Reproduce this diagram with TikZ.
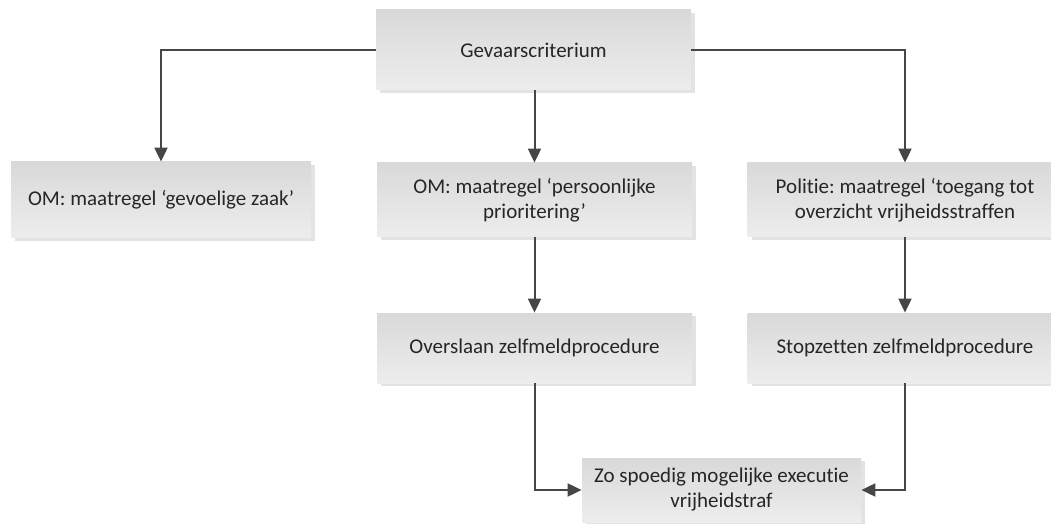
\documentclass[tikz,border=0pt]{standalone}
\usepackage{fontspec}
\setmainfont[Ligatures=NoCommon]{Carlito}
\usetikzlibrary{arrows.meta,shadows}
\frenchspacing

\definecolor{boxtop}{HTML}{D9D9D9}
\definecolor{boxbot}{HTML}{EDEDED}
\definecolor{shadowgray}{HTML}{E3E3E3}
\definecolor{linegray}{HTML}{464646}

\begin{document}
\begin{tikzpicture}[x=0.5pt,y=-0.5pt,
  font=\fontsize{10.5}{12.5}\selectfont,
  box/.style={minimum width=157.5pt,minimum height=37pt,inner sep=2pt,align=center,
    text=black!85,top color=boxtop,bottom color=boxbot,
    drop shadow={shadow xshift=2pt,shadow yshift=-1.5pt,fill=shadowgray,opacity=1}},
  link/.style={draw=linegray,line width=1pt,-{Triangle[length=7pt,width=6.5pt]}}]
\useasboundingbox (0,0) rectangle (1051,524);
\node[box,minimum height=40pt] (crit) at (533.5,50) {Gevaarscriterium};
\node[box,minimum width=150pt,minimum height=38pt] (omzaak) at (161,200) {OM: maatregel ‘gevoelige zaak’};
\node[box] (omprio) at (534.5,200) {OM: maatregel ‘persoonlijke\\prioritering’};
\node[box] (politie) at (905,200) {Politie: maatregel ‘toegang tot\\overzicht vrijheidsstraffen};
\node[box,minimum height=35pt] (overslaan) at (534.5,348) {Overslaan zelfmeldprocedure};
\node[box,minimum height=35pt] (stopzetten) at (905,348) {Stopzetten zelfmeldprocedure};
\node[box,minimum width=139.5pt,minimum height=32pt] (executie) at (721.5,490) {Zo spoedig mogelijke executie\\vrijheidstraf};
% verbindingen
\draw[link] (crit.west) -| (omzaak.north);
\draw[link] (crit.south -| omprio.north) -- (omprio.north);
\draw[link] (crit.east) -| (politie.north);
\draw[link] (omprio) -- (overslaan);
\draw[link] (politie) -- (stopzetten);
\draw[link] (overslaan.south) |- (executie.west);
\draw[link] (stopzetten.south) |- (executie.east);
\end{tikzpicture}
\end{document}
